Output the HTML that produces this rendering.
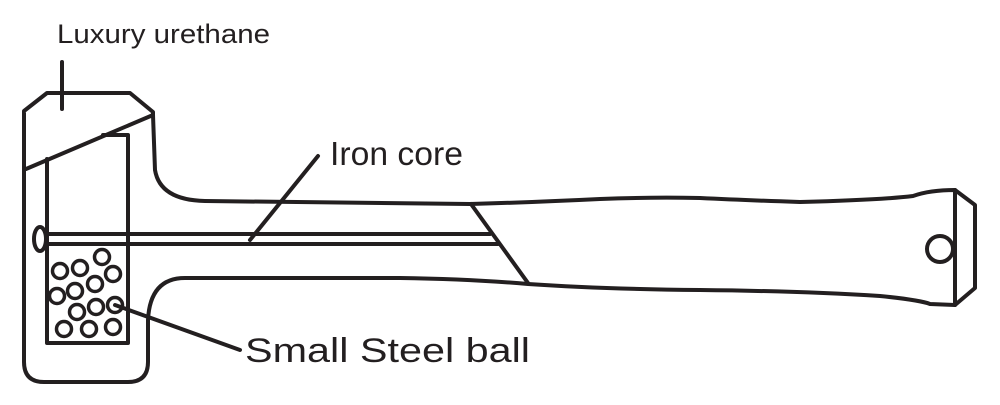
<!DOCTYPE html>
<html><head><style>html,body{margin:0;padding:0;background:#fff}svg{display:block}</style></head>
<body>
<svg width="1000" height="405" viewBox="0 0 1000 405" xmlns="http://www.w3.org/2000/svg">
<g fill="none" stroke="#231f20" stroke-width="4" stroke-linejoin="round" stroke-linecap="round">
<path d="M153,115 L153,112 L130,93 L47,93 L24,111 L24,362 Q24,382 44,382 L128,382 Q148,382 148,362 L148,320 Q150,278 185,278 L400,278 Q470,279 528,284 Q600,289 700,290 Q800,291 880,296 Q920,300 930,304 L955,305 L975,288 L975,205 L955,190 Q930,190 913,196 Q880,200 800,202 Q740,200 700,198 Q650,197 600,199 Q540,202 470,204 L205,201 Q160,200 155,170 Z"/>
<line x1="955" y1="190" x2="955" y2="305"/>
<circle cx="940" cy="249" r="13"/>
<line x1="26" y1="169" x2="153" y2="115"/>
<path d="M47,159 L47,343 L128,343 L128,135 L103,135"/>
<line x1="47" y1="234" x2="490" y2="234"/>
<line x1="47" y1="244" x2="498" y2="244"/>
<ellipse cx="40" cy="239" rx="6" ry="12"/>
<line x1="471" y1="204" x2="528" y2="283"/>
<g stroke-width="3.5">
<circle cx="102" cy="257" r="7.5"/><circle cx="80" cy="268" r="7.5"/><circle cx="60" cy="271" r="7.5"/>
<circle cx="113" cy="274" r="7.5"/><circle cx="95" cy="284" r="7.5"/><circle cx="75" cy="291" r="7.5"/>
<circle cx="57" cy="296" r="7.5"/><circle cx="115" cy="305" r="7.5"/><circle cx="96" cy="307" r="7.5"/>
<circle cx="77" cy="312" r="7.5"/><circle cx="64" cy="329" r="7.5"/><circle cx="89" cy="329" r="7.5"/>
<circle cx="113" cy="327" r="7.5"/>
</g>
<line x1="62" y1="62" x2="62" y2="109"/>
<line x1="318" y1="156" x2="250" y2="240"/>
<line x1="115" y1="305" x2="240" y2="350"/>
</g>
<g fill="#231f20" font-family="'Liberation Sans', sans-serif">
<text x="57" y="43" font-size="27" textLength="213" lengthAdjust="spacingAndGlyphs">Luxury urethane</text>
<text x="330" y="165" font-size="33" textLength="133" lengthAdjust="spacingAndGlyphs">Iron core</text>
<text x="245" y="362" font-size="34" textLength="285" lengthAdjust="spacingAndGlyphs">Small Steel ball</text>
</g>
</svg>
</body></html>
